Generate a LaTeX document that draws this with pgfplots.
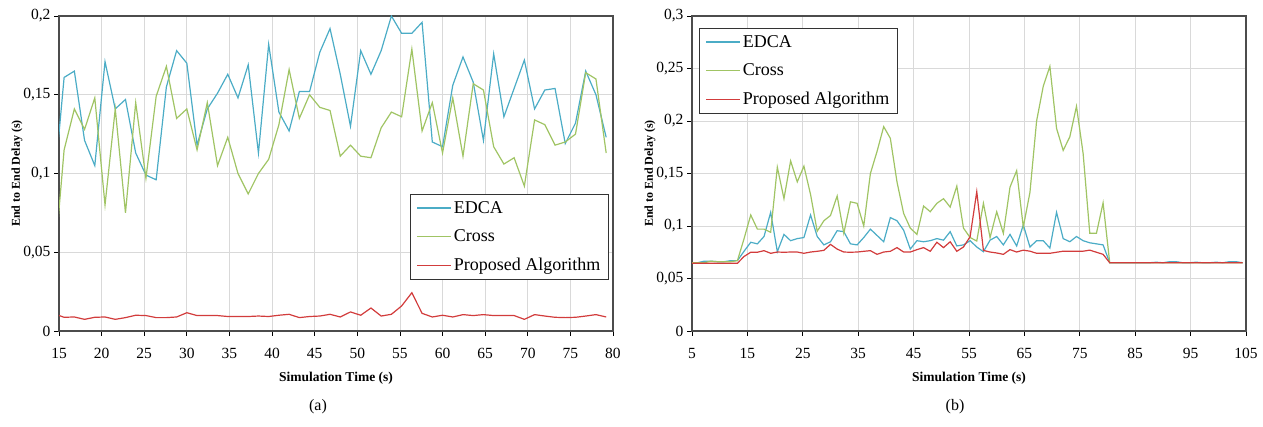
\documentclass[border=0pt]{standalone}
\usepackage{fontspec}
\setmainfont{Liberation Serif}
\usepackage{pgfplots}
\pgfplotsset{compat=1.18}
\definecolor{edca}{RGB}{75,172,198}
\definecolor{cross}{RGB}{160,196,100}
\definecolor{prop}{RGB}{210,60,60}
\pgfplotsset{delay/.style={
  width=554pt, height=315pt, scale only axis, anchor=north west,
  ymin=0, grid=major, grid style={black!15, line width=0.8pt},
  axis line style={black!70, line width=1.1pt},
  tick style={black, line width=0.8pt}, tick align=outside, tick pos=left,
  major tick length=5pt, scaled ticks=false,
  tick label style={font=\fontsize{15.5}{16}\selectfont},
  xticklabel style={yshift=-9pt},
  xlabel={\bfseries Simulation Time (s)}, ylabel={\bfseries End to End Delay (s)},
  xlabel style={font=\fontsize{13.5}{13.5}\selectfont, at={(rel axis cs:0.5,0)}, anchor=center, yshift=-47pt},
  ylabel style={font=\fontsize{12}{12}\selectfont, at={(rel axis cs:0,0.5)}, anchor=center, yshift=42pt},
  every axis plot/.append style={line width=1.2pt, mark=none},
  legend style={draw=black!80, line width=0.8pt, font=\fontsize{18}{18}\selectfont,
    anchor=north west, inner xsep=6pt, inner ysep=5pt, row sep=11pt, cells={anchor=west}},
  legend image code/.code={\draw[#1, line width=1.3pt] (0pt,0pt) -- (34pt,0pt);},
}}
\begin{document}
\begin{tikzpicture}
\path[use as bounding box] (0pt,0pt) rectangle (1263pt,-427pt);
\begin{axis}[delay, at={(59pt,-16pt)}, xmin=15, xmax=80, ymax=0.2,
  xtick={15,20,...,80}, xticklabels={15,20,25,30,35,40,45,50,55,60,65,70,75,80},
  ytick={0,0.05,0.1,0.15,0.2}, yticklabels={0,{0,05},{0,1},{0,15},{0,2}},
  legend style={at={(0.634,0.435)}}]
\addplot[edca] coordinates {
(14.4,0.090)(15.6,0.161)(16.8,0.165)(18.0,0.121)(19.2,0.105)(20.4,0.171)(21.6,0.141)
(22.8,0.147)(24.0,0.113)(25.2,0.099)(26.4,0.096)(27.6,0.155)(28.8,0.178)(30.0,0.170)
(31.2,0.118)(32.4,0.141)(33.6,0.151)(34.8,0.163)(36.0,0.148)(37.2,0.169)(38.4,0.113)
(39.6,0.182)(40.8,0.139)(42.0,0.127)(43.2,0.152)(44.4,0.152)(45.6,0.177)(46.8,0.192)
(48.0,0.163)(49.2,0.130)(50.4,0.178)(51.6,0.163)(52.8,0.178)(54.0,0.200)(55.2,0.189)
(56.4,0.189)(57.6,0.196)(58.8,0.120)(60.0,0.117)(61.2,0.156)(62.4,0.174)(63.6,0.158)
(64.8,0.121)(66.0,0.176)(67.2,0.136)(68.4,0.154)(69.6,0.172)(70.8,0.141)(72.0,0.153)
(73.2,0.154)(74.4,0.119)(75.6,0.132)(76.8,0.165)(78.0,0.150)(79.2,0.123)};
\addplot[cross] coordinates {
(14.4,0.039)(15.6,0.115)(16.8,0.141)(18.0,0.128)(19.2,0.148)(20.4,0.080)(21.6,0.141)
(22.8,0.075)(24.0,0.145)(25.2,0.097)(26.4,0.149)(27.6,0.168)(28.8,0.135)(30.0,0.141)
(31.2,0.115)(32.4,0.145)(33.6,0.105)(34.8,0.123)(36.0,0.100)(37.2,0.087)(38.4,0.100)
(39.6,0.109)(40.8,0.131)(42.0,0.166)(43.2,0.135)(44.4,0.150)(45.6,0.142)(46.8,0.140)
(48.0,0.111)(49.2,0.118)(50.4,0.111)(51.6,0.110)(52.8,0.129)(54.0,0.139)(55.2,0.136)
(56.4,0.179)(57.6,0.127)(58.8,0.145)(60.0,0.113)(61.2,0.148)(62.4,0.111)(63.6,0.157)
(64.8,0.153)(66.0,0.117)(67.2,0.106)(68.4,0.110)(69.6,0.092)(70.8,0.134)(72.0,0.131)
(73.2,0.118)(74.4,0.120)(75.6,0.125)(76.8,0.164)(78.0,0.160)(79.2,0.113)};
\addplot[prop] coordinates {
(14.4,0.0110)(15.6,0.0087)(16.8,0.0089)(18.0,0.0074)(19.2,0.0087)(20.4,0.0089)(21.6,0.0074)
(22.8,0.0085)(24.0,0.0100)(25.2,0.0098)(26.4,0.0085)(27.6,0.0085)(28.8,0.0089)(30.0,0.0116)
(31.2,0.0098)(32.4,0.0098)(33.6,0.0098)(34.8,0.0092)(36.0,0.0092)(37.2,0.0092)(38.4,0.0095)
(39.6,0.0092)(40.8,0.0100)(42.0,0.0106)(43.2,0.0085)(44.4,0.0092)(45.6,0.0095)(46.8,0.0106)
(48.0,0.0089)(49.2,0.0121)(50.4,0.0100)(51.6,0.0146)(52.8,0.0095)(54.0,0.0106)(55.2,0.0159)
(56.4,0.0243)(57.6,0.0112)(58.8,0.0089)(60.0,0.0100)(61.2,0.0089)(62.4,0.0104)(63.6,0.0098)
(64.8,0.0104)(66.0,0.0098)(67.2,0.0098)(68.4,0.0098)(69.6,0.0074)(70.8,0.0104)(72.0,0.0095)
(73.2,0.0087)(74.4,0.0085)(75.6,0.0087)(76.8,0.0095)(78.0,0.0104)(79.2,0.0089)};
\legend{EDCA,Cross,Proposed Algorithm}
\end{axis}
\begin{axis}[delay, at={(692pt,-16pt)}, xmin=5, xmax=105, ymax=0.3,
  xtick={5,15,...,105}, xticklabels={5,15,25,35,45,55,65,75,85,95,105},
  ytick={0,0.05,0.1,0.15,0.2,0.25,0.3},
  yticklabels={0,{0,05},{0,1},{0,15},{0,2},{0,25},{0,3}},
  legend style={at={(0.013,0.962)}}]
\addplot[edca] coordinates {
(4.8,0.065)(6.0,0.065)(7.2,0.0665)(8.4,0.0665)(9.6,0.066)(10.8,0.066)(12.0,0.067)(13.2,0.067)
(14.4,0.076)(15.6,0.0845)(16.8,0.083)(18.0,0.090)(19.2,0.113)(20.4,0.0755)(21.6,0.092)
(22.8,0.086)(24.0,0.088)(25.2,0.089)(26.4,0.1105)(27.6,0.090)(28.8,0.082)(30.0,0.085)
(31.2,0.0955)(32.4,0.0946)(33.6,0.083)(34.8,0.082)(36.0,0.089)(37.2,0.097)(38.4,0.091)
(39.6,0.085)(40.8,0.108)(42.0,0.105)(43.2,0.096)(44.4,0.078)(45.6,0.086)(46.8,0.085)
(48.0,0.086)(49.2,0.088)(50.4,0.0865)(51.6,0.0946)(52.8,0.081)(54.0,0.082)(55.2,0.086)
(56.4,0.080)(57.6,0.0755)(58.8,0.0865)(60.0,0.090)(61.2,0.082)(62.4,0.092)(63.6,0.081)
(64.8,0.101)(66.0,0.080)(67.2,0.086)(68.4,0.086)(69.6,0.079)(70.8,0.113)(72.0,0.088)
(73.2,0.085)(74.4,0.090)(75.6,0.086)(76.8,0.084)(78.0,0.083)(79.2,0.082)(80.4,0.065)
(81.6,0.065)(82.8,0.065)(84.0,0.065)(85.2,0.065)(86.4,0.065)(87.6,0.065)(88.8,0.0655)
(90.0,0.065)(91.2,0.066)(92.4,0.066)(93.6,0.065)(94.8,0.065)(96.0,0.0655)(97.2,0.065)
(98.4,0.065)(99.6,0.0655)(100.8,0.065)(102.0,0.066)(103.2,0.066)(104.4,0.065)};
\addplot[cross] coordinates {
(4.8,0.065)(6.0,0.065)(7.2,0.065)(8.4,0.0665)(9.6,0.066)(10.8,0.066)(12.0,0.066)(13.2,0.067)
(14.4,0.088)(15.6,0.1105)(16.8,0.097)(18.0,0.097)(19.2,0.094)(20.4,0.156)(21.6,0.126)
(22.8,0.162)(24.0,0.142)(25.2,0.157)(26.4,0.130)(27.6,0.095)(28.8,0.105)(30.0,0.110)
(31.2,0.1286)(32.4,0.093)(33.6,0.123)(34.8,0.1216)(36.0,0.100)(37.2,0.150)(38.4,0.171)
(39.6,0.1946)(40.8,0.1835)(42.0,0.142)(43.2,0.112)(44.4,0.098)(45.6,0.092)(46.8,0.119)
(48.0,0.1136)(49.2,0.1216)(50.4,0.126)(51.6,0.118)(52.8,0.138)(54.0,0.098)(55.2,0.089)
(56.4,0.0857)(57.6,0.1216)(58.8,0.089)(60.0,0.1136)(61.2,0.093)(62.4,0.137)(63.6,0.1527)
(64.8,0.099)(66.0,0.132)(67.2,0.200)(68.4,0.233)(69.6,0.252)(70.8,0.193)(72.0,0.172)
(73.2,0.185)(74.4,0.214)(75.6,0.169)(76.8,0.093)(78.0,0.093)(79.2,0.122)(80.4,0.065)
(81.6,0.065)(84.0,0.065)(88.8,0.065)(92.4,0.065)(98.4,0.065)(104.4,0.065)};
\addplot[prop] coordinates {
(4.8,0.0645)(6.0,0.0645)(7.2,0.0645)(8.4,0.0645)(9.6,0.0645)(10.8,0.0645)(12.0,0.0645)(13.2,0.0645)
(14.4,0.071)(15.6,0.075)(16.8,0.075)(18.0,0.0765)(19.2,0.074)(20.4,0.0752)(21.6,0.075)
(22.8,0.0752)(24.0,0.0752)(25.2,0.074)(26.4,0.0752)(27.6,0.0759)(28.8,0.0768)(30.0,0.0825)
(31.2,0.078)(32.4,0.0752)(33.6,0.075)(34.8,0.0752)(36.0,0.0759)(37.2,0.0765)(38.4,0.073)
(39.6,0.0752)(40.8,0.0759)(42.0,0.0794)(43.2,0.0752)(44.4,0.0752)(45.6,0.0775)(46.8,0.0794)
(48.0,0.0759)(49.2,0.0845)(50.4,0.0794)(51.6,0.085)(52.8,0.0759)(54.0,0.080)(55.2,0.0898)
(56.4,0.1327)(57.6,0.0768)(58.8,0.0752)(60.0,0.0743)(61.2,0.073)(62.4,0.0775)(63.6,0.0752)
(64.8,0.077)(66.0,0.076)(67.2,0.074)(68.4,0.074)(69.6,0.074)(70.8,0.075)(72.0,0.076)
(73.2,0.076)(74.4,0.076)(75.6,0.076)(76.8,0.077)(78.0,0.075)(79.2,0.073)(80.4,0.065)
(84.0,0.065)(90.0,0.065)(96.0,0.065)(104.4,0.065)};
\legend{EDCA,Cross,Proposed Algorithm}
\end{axis}
\node[font=\fontsize{16}{16}\selectfont] at (318pt,-407pt) {(a)};
\node[font=\fontsize{16}{16}\selectfont] at (955pt,-407pt) {(b)};
\end{tikzpicture}
\end{document}
